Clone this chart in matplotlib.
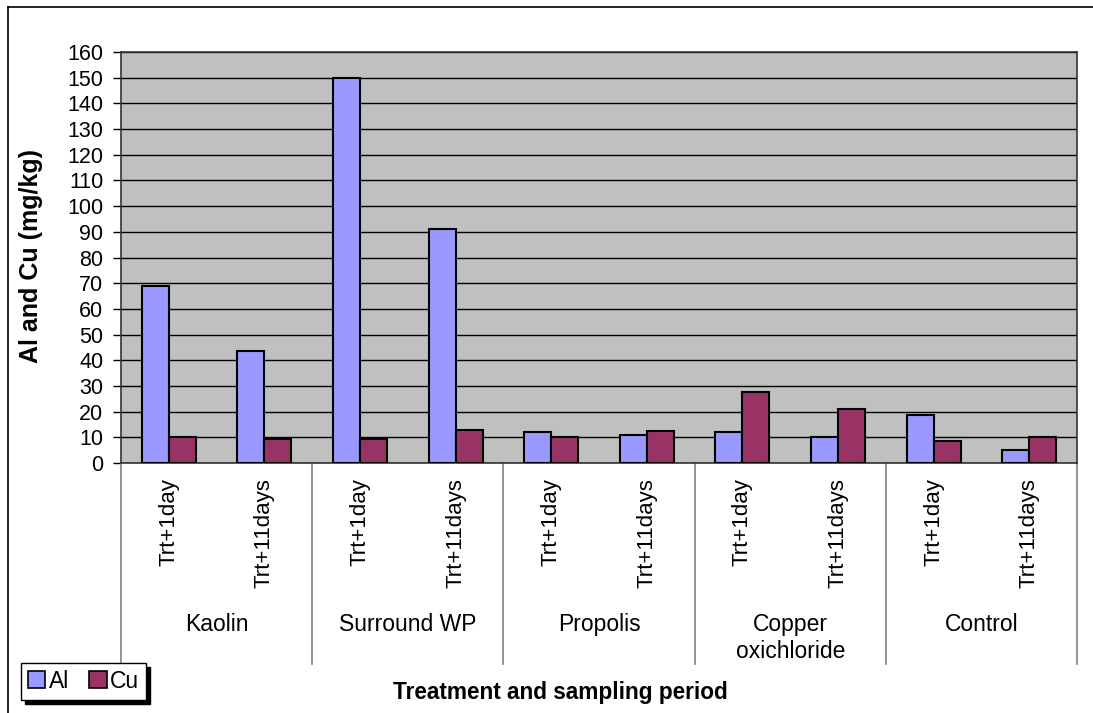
import numpy as np
import matplotlib.pyplot as plt
from matplotlib.lines import Line2D
from matplotlib.patches import Patch

# values
groups = ["Kaolin", "Surround WP", "Propolis", "Copper\noxichloride", "Control"]
periods = ["Trt+1day", "Trt+11days"]
al = [69, 43.5, 150, 91, 12, 11, 12, 10, 18.5, 5]
cu = [10, 9.5, 9.5, 13, 10, 12.5, 27.5, 21, 8.5, 10]

plt.rcParams["font.family"] = ["Liberation Sans", "DejaVu Sans"]

W, H = 1093, 713
fig = plt.figure(figsize=(W / 100, H / 100), dpi=100)
ax = fig.add_axes([121 / W, 1 - 463 / H, (1077 - 121) / W, (463 - 52) / H])
ax.set_facecolor("#C0C0C0")

x = np.arange(len(al))
w = 0.283
ax.bar(x - w / 2, al, w, color="#9999FF", edgecolor="black", linewidth=1.5, zorder=3)
ax.bar(x + w / 2, cu, w, color="#993366", edgecolor="black", linewidth=1.5, zorder=3)

ax.set_xlim(-0.5, len(al) - 0.5)
ax.set_ylim(0, 160)
ax.set_yticks(np.arange(0, 161, 10))
ax.yaxis.grid(True, color="black", linewidth=1, zorder=1)
ax.tick_params(axis="y", labelsize=15.5, length=5.8, width=1, direction="out", pad=7)
for s in ax.spines.values():
    s.set_linewidth(1.2)
    s.set_color("#333333")

# period labels (rotated) and group labels
ax.set_xticks(x)
ax.set_xticklabels(periods * len(groups), rotation=90, fontsize=16, va="top")
ax.tick_params(axis="x", length=0, pad=11)

for i, g in enumerate(groups):
    ax.text(2 * i + 0.5, -0.365, g, transform=ax.get_xaxis_transform(),
            ha="center", va="top", fontsize=16.5, linespacing=1.2)

# group separators below the axis
for b in np.arange(-0.5, len(al), 2):
    ax.plot([b, b], [0, -0.49], transform=ax.get_xaxis_transform(),
            color="#808080", linewidth=1.2, clip_on=False)

fig.text(560 / W, 1 - 693 / H, "Treatment and sampling period", ha="center", va="center",
         fontsize=16.3, fontweight="bold")
fig.text(31 / W, 1 - 256 / H, "Al and Cu (mg/kg)", ha="center", va="center",
         rotation=90, fontsize=18, fontweight="bold")

# outer chart border
fig.add_artist(Line2D([8 / W, 8 / W], [0, 1 - 7 / H], color="black", linewidth=1.2))
fig.add_artist(Line2D([8 / W, 1], [1 - 7 / H, 1 - 7 / H], color="black", linewidth=1.2))

handles = [Patch(facecolor="#9999FF", edgecolor="black", linewidth=1.2, label="Al"),
           Patch(facecolor="#993366", edgecolor="black", linewidth=1.2, label="Cu")]
leg = fig.legend(handles=handles, loc="upper left", bbox_to_anchor=(21 / W, 1 - 663 / H),
                 ncol=2, fontsize=16.5, frameon=True, fancybox=False,
                 shadow={"color": "black", "alpha": 1, "ox": 3, "oy": -3},
                 handlelength=0.75, handleheight=0.75, handletextpad=0.15,
                 columnspacing=0.9, borderpad=0.3, borderaxespad=0)
leg.get_frame().set_edgecolor("black")
leg.get_frame().set_linewidth(1)

fig.savefig("out.png", dpi=100)
